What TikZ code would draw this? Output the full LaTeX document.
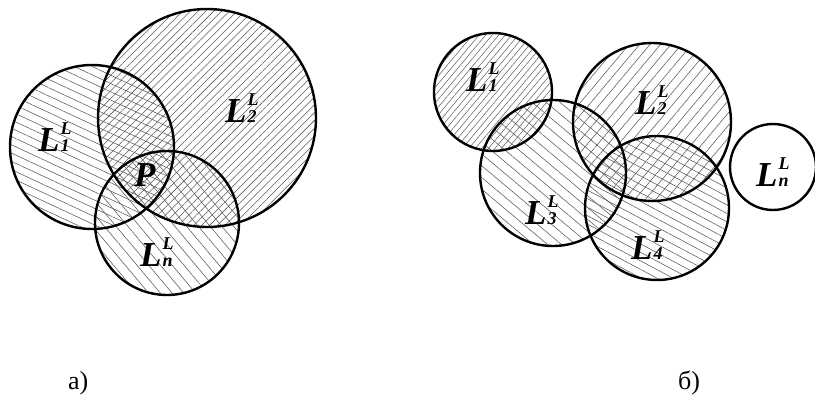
\documentclass[tikz,border=0pt]{standalone}
\usepackage{fontspec}
\setmainfont{Liberation Serif}
\usepackage{tikz}
\usetikzlibrary{patterns.meta}
\newcommand{\lset}[1]{%
  L\kern0.03em\rlap{\raisebox{0.5em}{\fontsize{18}{18}\selectfont L}}%
  {\fontsize{18}{18}\selectfont #1}}

\begin{document}
\begin{tikzpicture}[
  x=1pt, y=1pt,
  zone/.style={draw=black, line width=2.4pt},
  hatch/.style n args={3}{
    pattern={Lines[angle=#1, distance=#2pt, line width=#3pt]},
    pattern color=black!65
  },
  setlabel/.style={
    anchor=base west, inner sep=0,
    font=\fontsize{35}{40}\selectfont\bfseries\itshape
  },
  caption/.style={anchor=base west, inner sep=0, font=\fontsize{26}{30}\selectfont},
]
\useasboundingbox (0,0) rectangle (815,396);
% Hatching a)
\path[hatch={-25}{7.5}{0.55}] (92,249) circle[radius=82];
\path[hatch={45}{5.5}{0.55}] (207,278) circle[radius=109];
\path[hatch={-50}{9}{0.55}] (167,173) circle[radius=72];
% Hatching b)
\path[hatch={50}{5}{0.5}] (493,304) circle[radius=59];
\path[hatch={50}{8}{0.55}] (652,274) circle[radius=79];
\path[hatch={-40}{9}{0.55}] (553,223) circle[radius=73];
\path[hatch={-28}{7.5}{0.55}] (657,188) circle[radius=72];
% Outlines a)
\draw[zone] (92,249) circle[radius=82];
\draw[zone] (207,278) circle[radius=109];
\draw[zone] (167,173) circle[radius=72];
% Outlines b)
\draw[zone] (493,304) circle[radius=59];
\draw[zone] (652,274) circle[radius=79];
\draw[zone] (553,223) circle[radius=73];
\draw[zone] (657,188) circle[radius=72];
\draw[zone] (773,229) circle[radius=43];
% Labels a)
\node[setlabel] (aL1) at (38,244) {\lset{1}};
\node[setlabel] (aL2) at (225,273) {\lset{2}};
\node[setlabel] (aP)  at (134,209) {P};
\node[setlabel] (aLn) at (140,129) {\lset{n}};
% Labels b)
\node[setlabel] (bL1) at (466,304) {\lset{1}};
\node[setlabel] (bL2) at (635,281) {\lset{2}};
\node[setlabel] (bL3) at (525,171) {\lset{3}};
\node[setlabel] (bL4) at (631,136) {\lset{4}};
\node[setlabel] (bLn) at (756,209) {\lset{n}};
% Captions
\node[caption] (capA) at (68,6) {а)};
\node[caption] (capB) at (678,6) {б)};
\end{tikzpicture}
\end{document}
